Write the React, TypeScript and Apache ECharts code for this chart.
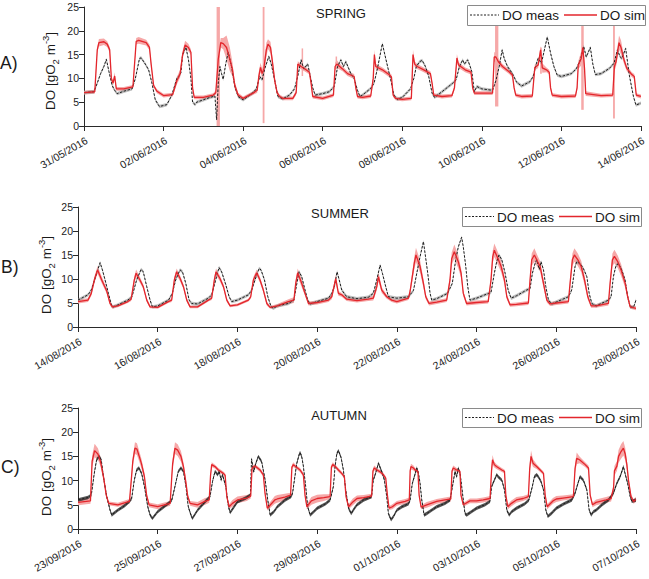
import React, { useEffect, useRef } from "react";
import * as echarts from "echarts";

const FONT = '"Liberation Sans", Arial, Helvetica, sans-serif';

// ---------- tick labels / texts ----------
const SPRING_TICKS = ["31/05/2016", "02/06/2016", "04/06/2016", "06/06/2016", "08/06/2016", "10/06/2016", "12/06/2016", "14/06/2016"];
const SUMMER_TICKS = ["14/08/2016", "16/08/2016", "18/08/2016", "20/08/2016", "22/08/2016", "24/08/2016", "26/08/2016", "28/08/2016"];
const AUTUMN_TICKS = ["23/09/2016", "25/09/2016", "27/09/2016", "29/09/2016", "01/10/2016", "03/10/2016", "05/10/2016", "07/10/2016"];
const SEASONS = ["SPRING", "SUMMER", "AUTUMN"];
const PANEL_LABELS = ["A)", "B)", "C)"];
const LEGEND_NAMES = ["DO meas", "DO sim"];

// ---------- data: [hours since first tick, DO] ; sim: [hours, DO, band half-width] ----------
const SPRING_SIM = [
  [0, 7.0, 0.4], [6.5, 7.2, 0.4], [8, 16, 0.6], [9, 17.5, 0.8], [12, 17.7, 0.7], [14, 17.2, 0.6], [15.5, 16, 0.6], [16.5, 10, 0.5], [17.5, 9, 0.5], [18.5, 10.5, 0.8], [19.5, 7.8, 0.4],
  [24, 7.8, 0.4], [29.5, 8.2, 0.4], [31.5, 17.8, 0.7], [33, 18.0, 0.7], [37.5, 17.5, 0.6], [39.5, 16.5, 0.6], [40.5, 13, 0.5], [42, 8.5, 0.4], [44, 7.3, 0.4],
  [48, 6.4, 0.4], [53.5, 6.6, 0.4], [56, 9.5, 0.8], [58, 11, 0.8], [59.5, 15, 0.8], [61, 17, 0.9], [63, 16.5, 0.8], [64.5, 15.5, 0.6], [65.5, 8, 0.4], [66.5, 6, 0.4],
  [72, 6.0, 0.4], [78, 6.5, 0.4], [79.5, 7, 0.5], [81, 14, 1.5], [82.5, 17.5, 1], [84, 17.3, 1.2], [86, 16.5, 2.5], [88, 14, 2.5], [89.5, 12, 1.5], [91, 8.5, 0.8], [93, 6.5, 0.5],
  [96, 5.8, 0.4], [102, 6.9, 0.4], [104.5, 7.5, 0.5], [105.5, 10.5, 1], [106.5, 12.3, 1], [107.5, 11, 1], [108.5, 12, 1.2], [110, 16, 1.5], [111, 17.2, 1], [112.5, 16.5, 1.2], [113.5, 14, 1], [115, 9.7, 0.8], [116.5, 7, 0.5], [118, 6.2, 0.4],
  [120, 5.8, 0.4], [126, 5.8, 0.4], [128, 7, 0.5], [129, 13, 0.6], [131, 12.5, 0.6], [134, 11.8, 0.5], [136, 11.3, 0.5], [137, 9, 0.5], [138, 6.2, 0.4],
  [144, 5.8, 0.4], [150.5, 6.5, 0.4], [151.5, 12.5, 0.8], [152.5, 13, 0.8], [156, 12, 0.5], [159, 11, 0.5], [163, 10.4, 0.5], [164, 8, 0.4], [165, 6.2, 0.4],
  [168, 6.0, 0.4], [173, 6.3, 0.4], [174.5, 10, 0.8], [175.2, 15, 1], [176, 12.5, 0.6], [180, 11.8, 0.5], [184, 10.8, 0.5], [185.5, 10.3, 0.5], [186.5, 6.5, 0.4], [188, 5.8, 0.4],
  [192, 5.6, 0.4], [197.5, 5.8, 0.4], [198.5, 15, 1], [199.5, 13, 0.6], [201, 12.5, 0.5], [205, 11.8, 0.5], [209, 11, 0.5], [210, 9, 0.4], [211, 6.5, 0.4],
  [216, 6.2, 0.4], [222, 6.4, 0.4], [223.5, 8, 0.5], [225, 14.3, 0.8], [226, 12.8, 0.6], [230, 11.8, 0.5], [233.5, 11.3, 0.5], [234.5, 8, 0.4], [235.5, 6.9, 0.4],
  [240, 6.9, 0.4], [246.5, 6.9, 0.4], [247.5, 14.5, 1], [248.5, 14.5, 1], [250, 13.5, 0.8], [252.5, 12.5, 0.5], [256.5, 11.4, 0.5], [258.5, 10.7, 0.5], [259.5, 8, 0.4], [260.5, 6.5, 0.4],
  [264, 6.2, 0.4], [270.5, 6.3, 0.4], [272, 12.3, 0.6], [274, 12.8, 0.6], [275.5, 16, 0.8], [276.5, 12.2, 1], [279, 11.8, 0.5], [280.7, 11.3, 0.5], [281.5, 8, 0.4], [282.5, 6.5, 0.4],
  [288, 6.2, 0.4], [296.5, 6.3, 0.4], [297.5, 8, 0.5], [298.2, 12.8, 0.8], [300, 14.2, 1.5], [301, 16.5, 2], [302, 12, 1], [302.7, 6.8, 0.5],
  [312, 6.4, 0.4], [319, 6.5, 0.4], [320, 12.5, 1], [321, 13.5, 1], [322.8, 17.5, 1.5], [324, 16.5, 1.5], [325.8, 13.9, 0.8], [327.5, 12.1, 0.6], [330.5, 10.8, 0.5], [332, 10.4, 0.5], [333.2, 6.5, 0.4], [336, 6.2, 0.4],
];
const SPRING_MEAS = [
  [0, 7.0], [6, 7.2], [8, 9], [10, 11], [12, 12.5], [13.5, 14], [15, 11.5], [16, 10], [17, 8.5], [18.5, 7.5], [20, 6.8],
  [24, 7.3], [29, 7.8], [31, 10], [33.5, 14.2], [34.5, 14.3], [37, 13], [39, 11.8], [41, 9], [43, 5.5], [45.5, 4.1],
  [48, 4.3], [50, 4.5], [53, 6.5], [56, 10], [57.5, 10.5], [58.5, 11.2], [59.5, 15], [61.5, 16.5], [63, 14], [64.5, 10], [65.5, 5], [67, 4.5], [68, 5],
  [72, 5.5], [76, 6.0], [79, 6.3], [80, 1.3], [81, 9], [82, 12.5], [83, 11], [84, 9.8], [85.5, 13], [87, 15.5], [89, 12.5], [91, 8.3], [93, 6.2],
  [96, 5.5], [102, 7], [104, 7.8], [106, 10.4], [107.5, 9.7], [109, 12], [111.5, 14.6], [113, 13], [115, 9.7], [117, 6.2],
  [120, 5.7], [124, 6.5], [127, 7.8], [129, 10.5], [131, 13.9], [132.5, 12], [135, 13], [136.5, 10.5], [138, 8], [139.5, 6.5],
  [144, 6.8], [148, 7.2], [151, 8.3], [153, 12.5], [155, 13.9], [156.5, 12.5], [158, 13.5], [161, 11], [163, 10], [165, 7.5], [166.5, 6.2],
  [168, 6.5], [173, 7.9], [175, 9], [177, 12], [180, 17.3], [181.5, 15], [183.5, 12], [185, 9.8], [187, 6.5], [189, 5.6],
  [192, 6], [197, 7.8], [199, 10], [200.5, 12.5], [202.5, 13.5], [204, 13.8], [206, 12.5], [208, 10.4], [210, 6.9], [211.5, 6],
  [216, 7.2], [222.5, 9], [224.5, 9.7], [226.5, 12.5], [228.5, 13.9], [229.5, 13], [231.5, 13.9], [233, 12.5], [234, 11.4], [235.5, 7.2], [237, 8.3],
  [240, 7.8], [246.5, 7.5], [248.5, 9.5], [250.5, 12.5], [252.3, 16], [253.5, 14.2], [255.5, 12.5], [258.5, 11], [261, 9.2],
  [264, 8.4], [269, 9.3], [271, 10.4], [273, 13.2], [274, 14.2], [276, 13.2], [279.5, 18.7], [281.5, 15.3], [283.5, 12.5], [285.5, 10.7],
  [288, 10.4], [294, 11], [297, 12], [299.5, 13.9], [301.5, 16.7], [303, 14.5], [305.5, 16.5], [307, 13], [308.5, 10.8],
  [312, 11], [317, 12.1], [319.8, 13.2], [321.8, 16], [323.5, 14.5], [324.5, 14.2], [326.8, 16.3], [329, 10.7], [331.5, 6.2], [333, 4.4], [336, 4.8],
];
// simulated-uncertainty spikes: [start hour, end hour, low, high]
const SPRING_SPIKES = [
  [80, 82, 0, 25], [107.8, 108.9, 0.6, 25], [131.3, 132.1, 10.5, 16.3], [151.8, 152.4, 12, 14.6],
  [248, 250, 4.1, 21], [275.2, 276.2, 11, 16.5], [300, 301.5, 3.4, 21], [319.2, 320.3, 1.6, 21.2],
];

const SUMMER_SIM = [
  [0, 5.3, 0.4], [6, 5.6, 0.4], [8, 7, 0.5], [10, 10, 0.7], [11.8, 11.9, 0.8], [14.3, 9.8, 0.7], [17.3, 7.5, 0.5], [19.3, 4.9, 0.4], [20.7, 4.2, 0.4],
  [24, 4.4, 0.3], [30, 5.3, 0.3], [32, 5.8, 0.4], [33.9, 9.8, 0.7], [35, 11.2, 0.8], [37.3, 9.8, 0.6], [39.3, 8.4, 0.5], [41.4, 5.6, 0.4], [43.4, 4.2, 0.3],
  [48, 4.1, 0.3], [54.4, 5.3, 0.3], [56.4, 5.6, 0.4], [58, 9.8, 0.6], [59.4, 11.5, 0.7], [61.5, 10.1, 0.6], [63.5, 8.4, 0.5], [65.5, 5.6, 0.4], [67.5, 4.2, 0.3],
  [72, 4.2, 0.3], [78.5, 5.6, 0.3], [80.5, 6, 0.4], [82.1, 9.8, 0.6], [83.1, 11.5, 0.7], [85.5, 10.1, 0.6], [87.6, 8.4, 0.5], [89.6, 5.6, 0.4], [91.6, 4.4, 0.3],
  [96, 4.6, 0.3], [102.6, 5.6, 0.3], [104, 6.3, 0.4], [105.6, 9.8, 0.6], [107.6, 11.3, 0.7], [109.6, 9.8, 0.6], [111.6, 7.7, 0.5], [113.7, 4.9, 0.4], [115.7, 4.1, 0.3],
  [120, 4.4, 0.4], [126.7, 5.3, 0.5], [130, 5.6, 0.6], [131.1, 9.1, 0.8], [132.3, 11.3, 0.9], [134.7, 9.1, 0.8], [136.7, 7, 0.5], [138.8, 4.9, 0.4],
  [144, 5.1, 0.4], [150.8, 5.6, 0.4], [152.8, 6.3, 0.5], [154.4, 8.8, 0.7], [155.2, 10.1, 0.8], [156.8, 7, 0.5], [158.8, 6.7, 0.4], [161.8, 5.8, 0.4],
  [168, 5.5, 0.4], [174.8, 5.8, 0.4], [177.8, 6, 0.5], [179.9, 8.4, 0.8], [180.9, 10.5, 1], [182.9, 7.7, 0.6], [185.9, 6.3, 0.4], [188.9, 5.6, 0.4],
  [192, 5.3, 0.4], [199, 6, 0.4], [200, 7.5, 0.6], [201, 9.8, 0.9], [202.5, 13.3, 1.3], [203.5, 15, 1.5], [206, 12.6, 1.3], [208, 9.1, 0.9], [209.4, 6.3, 0.5], [211.4, 4.9, 0.4],
  [216, 5.2, 0.4], [222, 5.6, 0.4], [224, 9.8, 0.9], [225, 14.2, 1.3], [226.6, 15.7, 1.5], [229, 13.6, 1.4], [230.7, 11.2, 1], [232, 7, 0.6], [234, 4.9, 0.4],
  [240, 5.1, 0.4], [247, 5.3, 0.4], [248.7, 9.8, 0.9], [249.7, 14.6, 1.3], [250.7, 16, 1.4], [252.8, 14.3, 1.3], [254.8, 12.6, 1.2], [256.8, 9.8, 0.9], [258.2, 6.3, 0.5], [260.2, 4.6, 0.4],
  [264, 4.7, 0.4], [271.2, 5, 0.4], [272.2, 9.8, 0.9], [273.2, 14, 1.3], [274.8, 15, 1.4], [276.8, 13.6, 1.2], [278.3, 12.6, 1.1], [280.3, 9.1, 0.9], [282.3, 5.6, 0.5], [284.3, 4.8, 0.4],
  [288, 5, 0.4], [295.3, 5.3, 0.4], [296.3, 9.1, 0.9], [297.7, 14, 1.3], [298.9, 15, 1.4], [301, 14, 1.3], [303, 12.6, 1.2], [305, 9.8, 1], [307, 6.3, 0.6], [309, 4.4, 0.4],
  [312, 4.4, 0.4], [319.4, 4.9, 0.4], [320.4, 9.1, 0.9], [321.8, 14, 1.3], [323, 14.7, 1.4], [325, 13.6, 1.3], [327, 11.9, 1.2], [329.5, 9.1, 0.9], [331, 6.3, 0.6], [332.5, 4.2, 0.4], [336, 3.9, 0.4],
];
const SUMMER_MEAS = [
  [0, 5.6], [6, 6.7], [8, 7.7], [10.6, 10.5], [13.3, 13.4], [14.7, 11.9], [16.3, 9.8], [18.3, 7], [20.3, 4.4], [21.3, 4.2],
  [24, 4.6], [30, 5.6], [32.5, 6.3], [35.3, 9.8], [38, 12], [39.3, 11.5], [41.4, 8.4], [43.4, 5.6], [44.8, 4.2],
  [48, 4.4], [54.5, 5.6], [56.8, 7], [58.8, 9.8], [61.4, 11.9], [62.9, 11.5], [64.9, 9.1], [66.9, 5.6], [68.5, 4.9],
  [72, 4.8], [78.5, 6], [80.5, 6.7], [82.9, 9.8], [84.9, 12.4], [86.5, 11.5], [89, 8.8], [91, 6.3], [92.6, 5.3],
  [96, 5.6], [102.6, 6.7], [104.6, 7.7], [106.6, 9.8], [109, 12.2], [110.2, 11.9], [112.3, 9.8], [114.3, 6.3], [116.3, 4.2], [117.7, 3.9],
  [120, 4.4], [126.7, 4.9], [130, 5.6], [131.8, 9.1], [133.1, 11.5], [134.7, 10.5], [136.7, 7.7], [138.3, 5.6], [139.8, 4.8],
  [144, 5.3], [150.8, 6], [152.8, 7], [154.4, 8.4], [156, 11.5], [157.3, 9.8], [158.8, 7.7], [161.8, 6.3],
  [168, 5.9], [174.8, 6.2], [177.8, 7], [179.9, 9.8], [181.9, 12.9], [183.3, 11.2], [185.3, 8.4], [186.9, 6.3],
  [192, 6], [199, 6.3], [202, 7.6], [204, 11.2], [206, 14.7], [208, 17.8], [209, 15.3], [210.6, 11.2], [212, 7], [213, 5.6],
  [216, 5.9], [222.5, 7], [225.4, 9.1], [227.4, 13.9], [229, 16.7], [231, 18.7], [232, 16.7], [233.5, 12.6], [234.7, 8.4], [236, 5.6],
  [240, 6], [245, 6.7], [248.7, 7.2], [250.7, 11.2], [252.1, 13.6], [253.5, 15], [255.2, 14], [257.2, 11.2], [259, 7.7], [260.8, 6],
  [264, 6.5], [270.2, 7.7], [272.2, 8], [273.6, 11.2], [275.2, 13.2], [276.2, 14], [277.8, 12], [278.8, 13.6], [280.3, 11.9], [281.7, 8.4], [283.3, 5.6], [285.3, 4.8],
  [288, 5.2], [295.3, 6.3], [297.3, 7.7], [299.3, 12.6], [300.3, 13.6], [302.3, 13.2], [304.3, 12.2], [306.4, 10.5], [307.8, 7], [309.4, 4.9],
  [312, 4.4], [319.4, 5.6], [321, 6.3], [322.4, 10.5], [323.8, 12.6], [325.4, 13.3], [327.4, 11.9], [329.4, 9.8], [331, 6.3], [332.5, 4.2], [334.5, 4.1], [336, 5.6],
];

const AUTUMN_SIM = [
  [0, 5.5, 0.6], [7.5, 5.8, 0.6], [8.5, 14, 1.2], [10, 16.2, 1.4], [12, 15.5, 1.2], [13.5, 14, 1], [15.5, 10.5, 0.8], [17, 7, 0.5], [18.5, 5.3, 0.4],
  [24, 5.0, 0.4], [31, 5.7, 0.5], [32.3, 11, 0.8], [33, 14, 1], [34.3, 16.7, 1.2], [35.5, 16.5, 1.2], [36.7, 15.2, 1.1], [38.2, 13.5, 1], [40, 10.8, 0.8], [41.3, 7, 0.5], [42.8, 5, 0.5],
  [48, 4.6, 0.5], [55.5, 5.3, 0.5], [56.5, 11, 0.8], [57, 13.5, 1], [58.4, 16.7, 1.2], [60, 16.3, 1.2], [62, 15, 1.1], [63.5, 12.9, 0.9], [64.9, 9.8, 0.7], [66.1, 6.7, 0.5], [67.5, 5.3, 0.5],
  [72, 5, 0.6], [76.5, 5.7, 0.7], [79, 6, 0.6], [79.8, 11, 0.5], [80.5, 13.3, 0.5], [82.5, 12.9, 0.4], [84.5, 12.2, 0.4], [87.5, 11.5, 0.4], [88.6, 11.1, 0.4], [89.6, 6.7, 0.4], [91, 4.6, 0.5], [93, 5.3, 0.7],
  [96, 6, 0.7], [101.6, 6.4, 0.6], [104, 6.8, 0.5], [104.8, 12.6, 0.5], [106.6, 13, 0.4], [109.6, 12.2, 0.4], [111.6, 11.2, 0.4], [112.6, 7.4, 0.4], [114, 4.3, 0.5], [118.5, 6, 0.8],
  [120, 6.2, 0.8], [124.5, 6.6, 0.7], [128, 7, 0.5], [128.8, 12.8, 0.5], [129.7, 13.3, 0.5], [131, 12.9, 0.4], [133.7, 12.2, 0.4], [135.7, 11.2, 0.4], [136.7, 7, 0.4], [137.8, 4.6, 0.5], [140.5, 5.8, 0.8],
  [144, 6.3, 0.8], [148, 6.5, 0.7], [151.8, 6.7, 0.5], [152.6, 12.8, 0.5], [153.4, 13.3, 0.5], [155, 12.9, 0.4], [156.8, 12.2, 0.4], [158.8, 11.5, 0.4], [160.4, 10.8, 0.4], [161.4, 6.7, 0.4], [162.9, 4.6, 0.5], [165.5, 5.6, 0.7],
  [168, 6.3, 0.6], [172, 6.5, 0.5], [176.8, 6.8, 0.5], [177.6, 12, 0.5], [178.4, 12.6, 0.5], [180, 12.2, 0.4], [182, 11.8, 0.4], [183.9, 11.2, 0.4], [185.3, 10.5, 0.4], [186.3, 7, 0.4], [187.3, 4.3, 0.4], [189.3, 4.6, 0.5],
  [192, 5.3, 0.5], [197, 5.7, 0.5], [199.5, 6, 0.5], [200, 12, 0.6], [200.5, 12.9, 0.6], [202, 12.6, 0.5], [203, 12.2, 0.4], [204.7, 11.9, 0.4], [205.4, 7, 0.4], [206.6, 4.5, 0.4], [210, 5, 0.6],
  [216, 5.7, 0.5], [221, 6, 0.5], [224.5, 6.2, 0.5], [225.2, 12, 0.5], [226, 12.6, 0.5], [228, 12.2, 0.4], [230, 11.9, 0.4], [230.6, 7, 0.4], [232, 5, 0.4], [236, 5.8, 0.5],
  [240, 5.8, 0.5], [244, 6, 0.5], [248.1, 6.3, 0.5], [249, 12, 0.8], [249.6, 14.3, 1], [250.7, 13.3, 0.6], [252, 12.9, 0.5], [255.2, 12.2, 0.4], [256.8, 11.9, 0.4], [257.6, 7, 0.4], [258.8, 4.6, 0.5], [261, 5.3, 0.6],
  [264, 6, 0.6], [268, 6.3, 0.5], [271.2, 6.7, 0.5], [272, 12.5, 1], [272.8, 15, 1.2], [274, 13.6, 0.8], [276.2, 12.9, 0.5], [278.3, 12.2, 0.4], [280.3, 11.5, 0.4], [281.3, 7, 0.4], [282.5, 4.6, 0.5], [286, 5.8, 0.6],
  [288, 6.2, 0.6], [292, 6.4, 0.5], [298.3, 6.7, 0.5], [299.3, 12.5, 1], [300.3, 14.6, 1.2], [302, 14.3, 0.7], [305.4, 13.3, 0.5], [307.4, 12.6, 0.5], [308.4, 7, 0.4], [309.8, 5, 0.5],
  [312, 5.5, 0.6], [318, 6, 0.6], [321, 6.3, 0.6], [322.5, 8.5, 0.8], [323, 12, 1], [324.5, 13, 1], [325.5, 15, 1.3], [327, 16, 1.5], [328.4, 16.7, 1.5], [329.5, 15.5, 1.3], [330.5, 13.3, 1], [331.5, 10, 0.7], [333, 6.7, 0.5], [334.5, 5.7, 0.5], [336, 6.1, 0.5],
];
const AUTUMN_MEAS = [
  [0, 6], [6, 6.5], [8, 7], [9.8, 11.5], [11.2, 14.3], [12.7, 15], [14, 14.3], [15.3, 10.8], [17.3, 6.7], [19.3, 3.9], [20.3, 2.9],
  [24, 3.9], [28, 4.8], [31, 5.7], [32.3, 6.3], [33.9, 10.1], [35.3, 12.2], [36.7, 12.6], [38.3, 11.5], [40, 8.8], [42, 4.6], [43.4, 2.9], [44.8, 2.2],
  [48, 3.6], [55.5, 5.6], [56.5, 6], [58.4, 8.8], [60.4, 11.9], [62, 12.6], [63.5, 11.9], [65, 8.8], [66.4, 4.6], [68, 2.9], [68.9, 2.2],
  [72, 3.9], [77.5, 6], [79.5, 6.7], [81, 9.8], [82.5, 11.9], [84.1, 11.2], [85, 11.9], [86.2, 10.1], [87, 11.2], [89, 8.8], [90.6, 4.6], [91.6, 3.4], [94, 4.6],
  [96, 5.6], [101, 6.4], [103.8, 7], [104.5, 14.5], [105.8, 11.8], [107, 13.5], [108.6, 15], [110.6, 13.9], [112.7, 10.1], [114.3, 5.9], [115.7, 2.9], [118, 3.6],
  [120, 4.6], [124.7, 6], [128.3, 6.7], [129.2, 7.4], [130.3, 10.1], [131.7, 13.5], [133.1, 15.3], [133.7, 15.8], [134.7, 15], [135.7, 13], [137.1, 8.8], [138.3, 4.6], [139.8, 2.9], [142, 3.6],
  [144, 4.3], [149, 5.2], [151.8, 6], [153.8, 8.8], [154.8, 12.9], [155.8, 15.5], [156.8, 16.2], [158.4, 14.8], [159.8, 12.2], [161.2, 8.1], [162.9, 4.3], [164.5, 3.2], [166.5, 4.3],
  [168, 5], [172, 6], [176.8, 6.7], [177.8, 10.1], [179.2, 11.5], [180.9, 13.6], [182.5, 12.2], [183.3, 11.5], [184.5, 10.1], [185.9, 6.7], [186.9, 3.2], [188.5, 1.9], [190, 2.6],
  [192, 3.9], [195, 4.6], [199, 5.2], [200, 6], [201.3, 9.4], [202.5, 10.8], [204, 12.6], [205, 11.5], [206, 9.4], [207, 6], [208.4, 2.9], [210, 3.2], [213, 3.9],
  [216, 4.6], [221, 5.3], [224, 6], [225.5, 8.8], [227, 11.9], [228, 10.8], [229, 12.6], [230, 11.5], [230.6, 10.1], [232, 6], [233, 3.2], [234, 2.9], [237, 3.6],
  [240, 4.3], [245, 5], [248.1, 5.7], [249.1, 8.8], [250.7, 10.1], [252.1, 11.2], [253, 10.8], [255.2, 10.1], [256.8, 8.1], [258.2, 3.9], [259.6, 2.9], [261.2, 3.6],
  [264, 4.3], [269, 5.2], [271.5, 6], [273.6, 8.8], [274.8, 10.8], [276.2, 11.2], [277.2, 10.8], [278.8, 9.8], [280.3, 8.1], [281.7, 3.9], [282.9, 2.6], [285, 3.2],
  [288, 4.3], [292.5, 5.2], [297.3, 6], [299.3, 7.4], [301, 9.4], [302.3, 10.8], [304.3, 10.1], [306.4, 8.1], [307.8, 3.9], [309, 2.9], [310.4, 3.6],
  [312, 3.9], [315.5, 5], [319.4, 6], [322.4, 7.4], [324.4, 9.4], [326.4, 10.8], [327.8, 12.2], [328.4, 12.9], [329.4, 11.5], [331, 9.4], [332.5, 6.7], [333.5, 5.7], [336, 6],
];

// ---------- styling / layout ----------
const RED = "#e3262c";
const PINK = "#f6a8a8";
const DARK = "#1e1e1e";

const PANELS = [
  { ticks: SPRING_TICKS, sim: SPRING_SIM, meas: SPRING_MEAS, spikes: SPRING_SPIKES, measHw: 0.35, measBand: "rgba(140,140,140,0.55)",
    grid: { left: 84, top: 7, width: 558, height: 119 }, legend: { x: 467, y: 5, w: 178, h: 20 }, title: { x: 341, y: 13 }, label: { x: 0, y: 63 }, yname: { x: 50, y: 71 } },
  { ticks: SUMMER_TICKS, sim: SUMMER_SIM, meas: SUMMER_MEAS, spikes: [], measHw: 0.35, measBand: "rgba(140,140,140,0.55)",
    grid: { left: 78, top: 207, width: 558, height: 120 }, legend: { x: 462, y: 207, w: 179, h: 19 }, title: { x: 340, y: 213 }, label: { x: 1, y: 267 }, yname: { x: 46, y: 275 } },
  { ticks: AUTUMN_TICKS, sim: AUTUMN_SIM, meas: AUTUMN_MEAS, spikes: [], measHw: 0.35, measBand: "rgba(30,30,30,0.75)",
    grid: { left: 78, top: 408, width: 558, height: 121 }, legend: { x: 462, y: 408, w: 179, h: 19 }, title: { x: 339, y: 415 }, label: { x: 1, y: 467 }, yname: { x: 46, y: 477 } },
];

function bandSeries(idx: number, data: number[][], color: string, z: number) {
  return {
    type: "custom", xAxisIndex: idx, yAxisIndex: idx, silent: true, z,
    data, encode: { x: 0, y: [1, 2] },
    renderItem: (params: any, api: any) => {
      if (params.dataIndex !== 0) return null;
      const upper = data.map((d) => api.coord([d[0], d[2]]));
      const lower = data.map((d) => api.coord([d[0], d[1]])).reverse();
      return { type: "polygon", shape: { points: upper.concat(lower) }, style: { fill: color } };
    },
  };
}

function buildOption() {
  const grid: any[] = [];
  const xAxis: any[] = [];
  const yAxis: any[] = [];
  const series: any[] = [];
  const graphic: any[] = [];

  PANELS.forEach((p, i) => {
    grid.push({ ...p.grid });
    xAxis.push({
      type: "value", gridIndex: i, min: 0, max: 336, interval: 48,
      axisLine: { show: true, onZero: false, lineStyle: { color: "#2a2a2a", width: 1 } },
      axisTick: { show: true, length: 5, lineStyle: { color: "#2a2a2a" } },
      splitLine: { show: false },
      axisLabel: {
        rotate: 30, fontSize: 10.5, color: "#222", fontFamily: FONT, margin: 9, verticalAlign: "top",
        formatter: (v: number) => p.ticks[Math.round(v / 48)] ?? "",
      },
    });
    yAxis.push({
      type: "value", gridIndex: i, min: 0, max: 25, interval: 5,
      axisLine: { show: true, lineStyle: { color: "#2a2a2a", width: 1 } },
      axisTick: { show: true, length: 5, lineStyle: { color: "#2a2a2a" } },
      splitLine: { show: false },
      axisLabel: { fontSize: 10.5, color: "#222", fontFamily: FONT, margin: 5 },
    });

    const simBand = p.sim.map((d) => [d[0], Math.max(0, d[1] - d[2]), Math.min(25, d[1] + d[2])]);
    const measBand = p.meas.map((d) => [d[0], Math.max(0, d[1] - p.measHw), d[1] + p.measHw]);
    series.push(bandSeries(i, simBand, PINK, 1));
    if (p.spikes.length) {
      series.push({
        type: "custom", xAxisIndex: i, yAxisIndex: i, silent: true, z: 1,
        data: p.spikes, encode: { x: [0, 1], y: [2, 3] },
        renderItem: (params: any, api: any) => {
          const a = api.coord([api.value(0), api.value(3)]);
          const b = api.coord([api.value(1), api.value(2)]);
          return { type: "rect", shape: { x: a[0], y: a[1], width: Math.max(1.5, b[0] - a[0]), height: b[1] - a[1] }, style: { fill: PINK } };
        },
      });
    }
    series.push(bandSeries(i, measBand, p.measBand, 2));
    series.push({
      type: "line", xAxisIndex: i, yAxisIndex: i, data: p.meas, symbol: "none", silent: true, z: 3,
      lineStyle: { color: DARK, width: 1, type: [2.5, 1.5] },
    });
    series.push({
      type: "line", xAxisIndex: i, yAxisIndex: i, data: p.sim.map((d) => [d[0], d[1]]), symbol: "none", silent: true, z: 4,
      lineStyle: { color: RED, width: 1.3 },
    });

    graphic.push({ type: "text", x: p.title.x, y: p.title.y, z: 10,
      style: { text: SEASONS[i], fontSize: 13, fontFamily: FONT, fill: "#1a1a1a", align: "center", verticalAlign: "middle" } });
    graphic.push({ type: "text", x: p.label.x, y: p.label.y, z: 10,
      style: { text: PANEL_LABELS[i], fontSize: 17.5, fontFamily: FONT, fill: "#1a1a1a", align: "left", verticalAlign: "middle" } });
    graphic.push({ type: "text", x: p.yname.x, y: p.yname.y, rotation: Math.PI / 2, z: 10,
      style: {
        text: "{a|DO [gO}{s|2}{a| m}{p|-3}{a|]}", align: "center", verticalAlign: "middle",
        rich: {
          a: { fontSize: 13.5, fontFamily: FONT, fill: "#1a1a1a", color: "#1a1a1a", lineHeight: 20 },
          s: { fontSize: 9.5, fontFamily: FONT, fill: "#1a1a1a", color: "#1a1a1a", lineHeight: 12, verticalAlign: "bottom" },
          p: { fontSize: 9.5, fontFamily: FONT, fill: "#1a1a1a", color: "#1a1a1a", lineHeight: 12, verticalAlign: "top" },
        },
      } });
    const L = p.legend;
    const cy = L.y + L.h / 2;
    graphic.push({ type: "rect", z: 10, shape: { x: L.x + 0.5, y: L.y + 0.5, width: L.w, height: L.h },
      style: { fill: "#fff", stroke: "#8a8a8a", lineWidth: 1 } });
    graphic.push({ type: "line", z: 11, shape: { x1: L.x + 3, y1: cy, x2: L.x + 32, y2: cy },
      style: { stroke: DARK, lineWidth: 1, lineDash: [2, 1.5] } });
    graphic.push({ type: "text", z: 11, x: L.x + 35, y: cy + 0.5,
      style: { text: LEGEND_NAMES[0], fontSize: 13.5, fontFamily: FONT, fill: "#1a1a1a", align: "left", verticalAlign: "middle" } });
    graphic.push({ type: "line", z: 11, shape: { x1: L.x + 97, y1: cy, x2: L.x + 130, y2: cy },
      style: { stroke: RED, lineWidth: 1.4 } });
    graphic.push({ type: "text", z: 11, x: L.x + 133, y: cy + 0.5,
      style: { text: LEGEND_NAMES[1], fontSize: 13.5, fontFamily: FONT, fill: "#1a1a1a", align: "left", verticalAlign: "middle" } });
  });

  return {
    animation: false,
    backgroundColor: "#ffffff",
    textStyle: { fontFamily: FONT },
    grid, xAxis, yAxis, series, graphic,
  };
}

export default function App() {
  const ref = useRef<HTMLDivElement>(null);
  useEffect(() => {
    if (!ref.current) return;
    const chart = echarts.init(ref.current, undefined, { renderer: "svg" });
    chart.setOption(buildOption() as any);
    return () => chart.dispose();
  }, []);
  return <div ref={ref} style={{ position: "fixed", left: 0, top: 0, width: 649, height: 579 }} />;
}
